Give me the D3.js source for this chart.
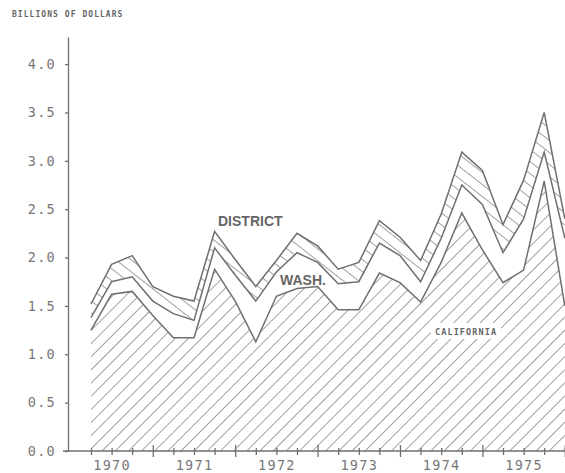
<!DOCTYPE html>
<html>
<head>
<meta charset="utf-8">
<script src="https://cdn.jsdelivr.net/npm/d3@7"></script>
<style>
  body { margin: 0; background: #fff; }
  svg { display: block; }
</style>
</head>
<body>
<div id="graph"></div>
<script>
// quarterly values, billions of dollars
const years = [1970, 1971, 1972, 1973, 1974, 1975];
const quarters = years.flatMap(y => ["Q1", "Q2", "Q3", "Q4"].map(q => y + " " + q));

const california = [1.25, 1.62, 1.65, 1.40, 1.17, 1.17, 1.88, 1.55, 1.13, 1.60, 1.68, 1.70,
                    1.46, 1.46, 1.84, 1.74, 1.54, 1.95, 2.46, 2.08, 1.74, 1.87, 2.79, 1.50];
const wash       = [0.13, 0.13, 0.15, 0.15, 0.25, 0.18, 0.22, 0.27, 0.42, 0.25, 0.37, 0.25,
                    0.27, 0.29, 0.31, 0.28, 0.21, 0.25, 0.29, 0.47, 0.31, 0.53, 0.30, 0.70];
const district   = [0.14, 0.18, 0.22, 0.15, 0.18, 0.20, 0.17, 0.16, 0.15, 0.12, 0.20, 0.17,
                    0.15, 0.20, 0.23, 0.19, 0.22, 0.25, 0.34, 0.35, 0.29, 0.40, 0.41, 0.20];
const yTicks = [0, 0.5, 1.0, 1.5, 2.0, 2.5, 3.0, 3.5, 4.0];

const width = 565;
const height = 473;
const ink = "#6f6f6f";
const mono = "'DejaVu Sans Mono', 'Liberation Mono', monospace";

const rows = quarters.map((q, i) => ({ q: q, california: california[i], wash: wash[i], district: district[i] }));
const series = d3.stack().keys(["california", "wash", "district"])(rows);

const svg = d3.select("#graph")
              .append("svg")
              .attr("width", width)
              .attr("height", height);

const defs = svg.append("defs");

// "/" hatch for California
defs.append("pattern")
    .attr("id", "hatch-cal")
    .attr("patternUnits", "userSpaceOnUse")
    .attr("width", 9.3)
    .attr("height", 20)
    .attr("patternTransform", "rotate(45)")
    .append("line")
    .attr("x1", 0).attr("y1", 0).attr("x2", 0).attr("y2", 20)
    .attr("stroke", ink)
    .attr("stroke-width", 1.3);

// "\" hatch for District
defs.append("pattern")
    .attr("id", "hatch-dc")
    .attr("patternUnits", "userSpaceOnUse")
    .attr("width", 20)
    .attr("height", 9.5)
    .attr("patternTransform", "rotate(38)")
    .append("line")
    .attr("x1", 0).attr("y1", 0).attr("x2", 20).attr("y2", 0)
    .attr("stroke", ink)
    .attr("stroke-width", 1.3);

const xScale = d3.scalePoint()
                 .domain(quarters)
                 .range([91, 564.8]);

const yScale = d3.scaleLinear()
                 .domain([0, 4.28])
                 .range([451, 37]);

const fills = { california: "url(#hatch-cal)", wash: "#fff", district: "url(#hatch-dc)" };

const area = d3.area()
               .x(d => xScale(d.data.q))
               .y0(d => yScale(d[0]))
               .y1(d => yScale(d[1]));

const topLine = d3.line()
                  .x(d => xScale(d.data.q))
                  .y(d => yScale(d[1]));

svg.selectAll("path.layer")
   .data(series)
   .enter()
   .append("path")
   .attr("class", "layer")
   .attr("d", area)
   .attr("fill", s => fills[s.key]);

svg.selectAll("path.edge")
   .data(series)
   .enter()
   .append("path")
   .attr("class", "edge")
   .attr("d", topLine)
   .attr("fill", "none")
   .attr("stroke", ink)
   .attr("stroke-width", 1.5)
   .attr("stroke-linejoin", "miter");

// y axis
const yAxis = d3.axisLeft(yScale)
                .tickValues(yTicks)
                .tickFormat(d3.format(".1f"))
                .tickSize(3)
                .tickSizeOuter(0)
                .tickPadding(9);

svg.append("g")
   .attr("id", "y-axis")
   .attr("transform", "translate(68,0)")
   .call(yAxis)
   .call(g => g.selectAll("path, line").attr("stroke", ink).attr("stroke-width", 1.3))
   .call(g => g.selectAll("text")
               .attr("fill", "#777")
               .style("font-family", mono)
               .style("font-size", "13.5px")
               .style("letter-spacing", "1.3px"));

// x axis: tick at every quarter, longer tick at each Q4
const xAxis = d3.axisBottom(xScale)
                .tickValues(quarters)
                .tickFormat("")
                .tickSizeOuter(0);

svg.append("g")
   .attr("id", "x-axis")
   .attr("transform", "translate(0," + yScale(0) + ")")
   .call(xAxis)
   .call(g => g.select(".domain").remove())
   .call(g => g.selectAll(".tick line")
               .attr("y1", d => d.endsWith("Q4") ? -6 : -3)
               .attr("y2", d => d.endsWith("Q4") ? 6 : 4)
               .attr("stroke", ink)
               .attr("stroke-width", 1.3));

svg.append("line")
   .attr("x1", 63)
   .attr("x2", width)
   .attr("y1", yScale(0))
   .attr("y2", yScale(0))
   .attr("stroke", ink)
   .attr("stroke-width", 1.3);

// year labels sit under the second quarter
const yearAxis = d3.axisBottom(xScale)
                   .tickValues(years.map(y => y + " Q2"))
                   .tickFormat(q => q.slice(0, 4))
                   .tickSize(0)
                   .tickPadding(9);

svg.append("g")
   .attr("transform", "translate(0," + yScale(0) + ")")
   .call(yearAxis)
   .call(g => g.select(".domain").remove())
   .call(g => g.selectAll("text")
               .attr("fill", "#777")
               .style("font-family", mono)
               .style("font-size", "13.5px")
               .style("letter-spacing", "1.3px"));

// titles and series labels
svg.append("text")
   .attr("x", 12)
   .attr("y", 17)
   .text("BILLIONS OF DOLLARS")
   .attr("fill", "#666")
   .style("font-family", mono)
   .style("font-weight", "bold")
   .style("font-size", "8px")
   .style("letter-spacing", "1.05px");

svg.append("text")
   .attr("x", 218)
   .attr("y", 226)
   .text("DISTRICT")
   .attr("fill", "#666")
   .style("font-family", "'Liberation Sans Narrow', 'Arial Narrow', 'Liberation Sans', sans-serif")
   .style("font-weight", "bold")
   .style("font-size", "14px");

svg.append("text")
   .attr("x", 280)
   .attr("y", 285)
   .text("WASH.")
   .attr("fill", "#666")
   .style("font-family", "'Liberation Sans Narrow', 'Arial Narrow', 'Liberation Sans', sans-serif")
   .style("font-weight", "bold")
   .style("font-size", "14px");

svg.append("rect")
   .attr("x", 431)
   .attr("y", 323)
   .attr("width", 70)
   .attr("height", 16)
   .attr("fill", "#fff");

svg.append("text")
   .attr("x", 435)
   .attr("y", 335)
   .text("CALIFORNIA")
   .attr("fill", "#666")
   .style("font-family", mono)
   .style("font-weight", "bold")
   .style("font-size", "8.5px")
   .style("letter-spacing", "1.1px");
</script>
</body>
</html>
